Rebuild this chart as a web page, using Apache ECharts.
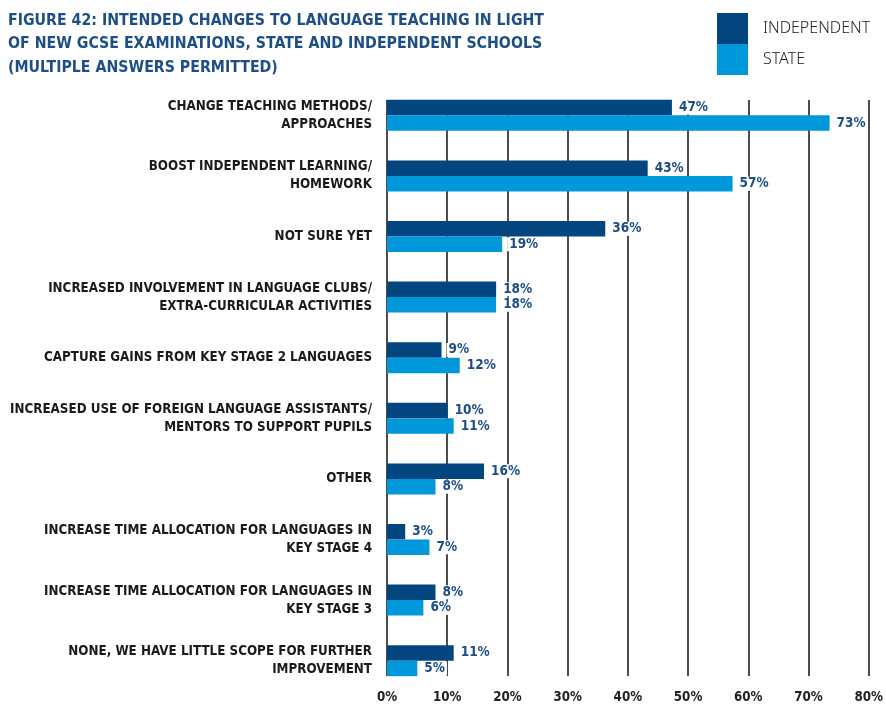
<!DOCTYPE html>
<html>
<head>
<meta charset="utf-8">
<script src="https://cdn.jsdelivr.net/npm/echarts@6/dist/echarts.min.js"></script>
<style>
  html, body { margin: 0; padding: 0; background: #fff; }
  #chart { width: 886px; height: 705px; }
</style>
</head>
<body>
<div id="chart"></div>
<script>
// categories top to bottom
let categories = [
    'CHANGE TEACHING METHODS/\nAPPROACHES',
    'BOOST INDEPENDENT LEARNING/\nHOMEWORK',
    'NOT SURE YET',
    'INCREASED INVOLVEMENT IN LANGUAGE CLUBS/\nEXTRA-CURRICULAR ACTIVITIES',
    'CAPTURE GAINS FROM KEY STAGE 2 LANGUAGES',
    'INCREASED USE OF FOREIGN LANGUAGE ASSISTANTS/\nMENTORS TO SUPPORT PUPILS',
    'OTHER',
    'INCREASE TIME ALLOCATION FOR LANGUAGES IN\nKEY STAGE 4',
    'INCREASE TIME ALLOCATION FOR LANGUAGES IN\nKEY STAGE 3',
    'NONE, WE HAVE LITTLE SCOPE FOR FURTHER\nIMPROVEMENT'
];
let independent = [47, 43, 36, 18, 9, 10, 16, 3, 8, 11];
let state = [73, 57, 19, 18, 12, 11, 8, 7, 6, 5];

let font = '"DejaVu Sans Condensed", "DejaVu Sans", sans-serif';
let valueLabel = {
    show: true,
    position: 'right',
    distance: 5,
    formatter: '{c}%',
    color: '#1d4f86',
    fontFamily: font,
    fontWeight: 'bold',
    fontSize: 13.5,
    backgroundColor: '#fff',
    padding: [0, 2, 0, 2]
};

let myChart = echarts.init(document.getElementById('chart'));
myChart.setOption({
    backgroundColor: '#fff',
    animation: false,
    title: {
        text: 'FIGURE 42: INTENDED CHANGES TO LANGUAGE TEACHING IN LIGHT\nOF NEW GCSE EXAMINATIONS, STATE AND INDEPENDENT SCHOOLS\n(MULTIPLE ANSWERS PERMITTED)',
        left: 3,
        top: 4,
        textStyle: {
            color: '#1d4f86',
            fontFamily: font,
            fontWeight: 'bold',
            fontSize: 15.75,
            lineHeight: 23.5
        }
    },
    legend: {
        orient: 'vertical',
        left: 712,
        top: 8,
        itemWidth: 31,
        itemHeight: 31,
        itemGap: 0,
        icon: 'rect',
        textStyle: {
            color: '#222',
            fontFamily: '"Noto Sans", sans-serif',
            fontWeight: 300,
            fontSize: 16,
            padding: [0, 0, 0, 10]
        },
        data: ['INDEPENDENT', 'STATE']
    },
    grid: [
        // bars
        { left: 387, right: 14, top: 85, bottom: 14 },
        // gridlines + x labels
        { left: 387, right: 14, top: 100, bottom: 29 }
    ],
    xAxis: [
        {
            gridIndex: 0, type: 'value', min: 0, max: 80, interval: 10,
            axisLabel: { show: false }, axisLine: { show: false },
            axisTick: { show: false }, splitLine: { show: false }
        },
        {
            gridIndex: 1, type: 'value', min: 0, max: 80, interval: 10, z: 0,
            axisLine: { show: false }, axisTick: { show: false },
            splitLine: { show: true, lineStyle: { color: '#111', width: 1.5 } },
            axisLabel: {
                formatter: '{value}%',
                margin: 15,
                color: '#222',
                fontFamily: font,
                fontWeight: 'bold',
                fontSize: 13.25
            }
        }
    ],
    yAxis: [
        {
            gridIndex: 0, type: 'category', inverse: true, data: categories,
            axisLine: { show: false }, axisTick: { show: false },
            axisLabel: {
                margin: 15,
                color: '#1a1a1a',
                fontFamily: font,
                fontWeight: 'bold',
                fontSize: 13.3,
                lineHeight: 18,
                align: 'right'
            }
        },
        {
            gridIndex: 1, type: 'category', data: categories, show: false
        }
    ],
    series: [
        {
            name: 'INDEPENDENT',
            type: 'bar',
            xAxisIndex: 0, yAxisIndex: 0,
            data: independent,
            barWidth: 15.5,
            barGap: '0%',
            itemStyle: { color: '#03467f' },
            label: valueLabel,
            z: 5
        },
        {
            name: 'STATE',
            type: 'bar',
            xAxisIndex: 0, yAxisIndex: 0,
            data: state,
            barWidth: 15.5,
            barGap: '0%',
            itemStyle: { color: '#0097db' },
            label: valueLabel,
            z: 5
        }
    ]
});
</script>
</body>
</html>
